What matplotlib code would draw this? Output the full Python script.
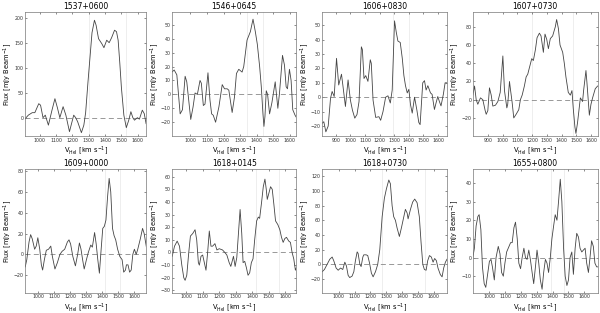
import matplotlib
matplotlib.use("Agg")
import matplotlib.pyplot as plt
import numpy as np

# source names (panel titles)
names = ["1537+0600", "1546+0645", "1606+0830", "1607+0730",
         "1609+0000", "1618+0145", "1618+0730", "1655+0800"]

# velocities [km/s] and fluxes [mJy/beam]
v1 = [911, 930, 954, 970, 994, 1005, 1020, 1034, 1053, 1075, 1093, 1108, 1123, 1143, 1160, 1182,
      1208, 1220, 1232, 1255, 1270, 1281, 1295, 1305, 1320, 1335, 1345, 1360, 1380, 1393, 1410,
      1425, 1440, 1458, 1470, 1480, 1490, 1500, 1515, 1530, 1545, 1558, 1570, 1580, 1598, 1610,
      1628, 1640, 1651]
f1 = [-2, 5, 10, 10, 28, 25, 0, 5, -15, 15, 38, 20, 0, 22, 5, -28,
      5, 0, -8, -30, -15, 10, 70, 110, 170, 195, 185, 158, 148, 140, 155,
      150, 160, 175, 172, 155, 110, 60, 5, -20, -5, 12, 0, -5, 0, -3,
      15, 8, -12]

v2 = [888, 902, 918, 938, 952, 968, 978, 1002, 1016, 1028, 1042, 1058, 1066, 1078, 1088, 1106,
      1118, 1128, 1138, 1152, 1172, 1192, 1206, 1222, 1232, 1252, 1266, 1278, 1292, 1312, 1322,
      1342, 1362, 1378, 1392, 1404, 1418, 1428, 1438, 1444, 1450, 1458, 1466, 1478, 1492, 1512,
      1528, 1538, 1556, 1568, 1578, 1586, 1598, 1608, 1618, 1632, 1642]
f2 = [16, 17.5, 14, -14, -11, 13, 9, -18, -9, 1, 0, 10, 8, -8, -7, 15.5,
      -4, -14, -15, -20, -9, 7, 4, 4, 3, -13, -2, 15, 18, 16, 20,
      39, 45, 54, 45, 36, 20, 5.5, -14, -23, -16, 2.6, 0, -14, -6, 9,
      -10, 1, 28, 21, 5.5, 4, 18, 10, -11, -15, -17]

v3 = [807, 818, 832, 848, 864, 875, 889, 905, 920, 939, 950, 966, 984, 1000, 1014, 1030,
      1045, 1059, 1075, 1082, 1093, 1105, 1120, 1136, 1143, 1155, 1173, 1195, 1207, 1223, 1241,
      1257, 1273, 1286, 1302, 1314, 1325, 1341, 1355, 1366, 1377, 1389, 1400, 1411, 1423, 1439,
      1455, 1468, 1477, 1495, 1507, 1518, 1530, 1548, 1559, 1575, 1586, 1598, 1609, 1620, 1636,
      1648, 1661]
f3 = [-18, -17, -24, -20, -0.7, 4, 0.5, 27, 8.5, 16, 7, -6.4, 12, -2, -9, -14.5,
      -12, -3, 35, 33, 13, 15, 11, 26, 23.5, -2, -14, -13.5, -16, -10, 0,
      1, -4, 5, 53, 45, 39, 38, 27, 15, 8, 3, 5.5, -5, -11, 0,
      -9, -17.5, -19, 10, 11.5, 5, 8, 3, 2, -8.5, -4, 0.5, -3, -6, 2,
      10, 10]

v4 = [798, 810, 821, 832, 850, 866, 882, 889, 900, 911, 923, 934, 952, 968, 984, 1002,
      1013, 1029, 1035, 1047, 1053, 1065, 1076, 1092, 1110, 1121, 1133, 1148, 1160, 1171, 1182,
      1198, 1209, 1223, 1234, 1250, 1261, 1277, 1288, 1300, 1311, 1324, 1340, 1358, 1367, 1379,
      1390, 1408, 1419, 1430, 1446, 1460, 1471, 1480, 1491, 1498, 1509, 1528, 1543, 1550, 1566,
      1573, 1589, 1600, 1611, 1629, 1645]
f4 = [5, 15, 0, -5, 2, 0, -12, -16, -12, 13, 5, -7, -6, -2, 8, 48,
      10, -9, -5, 20, 12, -3, -20, -16, -11, 0, 5, 15, 25, 28, 35,
      45, 43, 55, 68, 73, 70, 52, 72, 66, 56, 67, 70, 80, 88, 78,
      60, 52, 40, 25, 8, 5, 10, -10, -30, -37, -25, 2, -2, 10, 32,
      18, -17, -5, 2, 12, 15]

v5 = [919, 929, 943, 953, 963, 978, 988, 998, 1010, 1020, 1028, 1039, 1051, 1065, 1079, 1089,
      1105, 1120, 1136, 1150, 1166, 1183, 1193, 1203, 1217, 1233, 1247, 1258, 1268, 1278, 1288,
      1302, 1314, 1329, 1339, 1353, 1363, 1373, 1383, 1394, 1404, 1414, 1424, 1434, 1444, 1454,
      1465, 1475, 1485, 1497, 1511, 1525, 1535, 1546, 1552, 1562, 1572, 1582, 1592, 1602, 1613,
      1623, 1639, 1653, 1663, 1677]
f5 = [-12, -5, 12, 19, 15, 5, 8, 16, 5, -10, -15, -5, 4, 5, 8, -2,
      -14, -8, 0, 3, 5, 12, 14, 10, -2, -11, 0, 11, 5, -5, -14,
      -5, 2, 9, 7, 21, 10, -5, -18, 5, 25, 27, 33, 55, 73, 60,
      25, 18, 14, 5, -2, -5, -17, -15, -10, -10, -17, -15, 0, 5, 0,
      5, 15, 25, 20, 7]

v6 = [916, 930, 946, 960, 974, 986, 994, 1004, 1016, 1026, 1040, 1054, 1064, 1074, 1080, 1090,
      1100, 1110, 1120, 1130, 1140, 1150, 1160, 1174, 1186, 1200, 1220, 1234, 1246, 1260, 1270,
      1280, 1286, 1296, 1306, 1316, 1326, 1336, 1344, 1354, 1364, 1374, 1384, 1394, 1404, 1414,
      1426, 1436, 1444, 1456, 1466, 1476, 1484, 1490, 1500, 1510, 1520, 1530, 1540, 1554, 1566,
      1576, 1586, 1596, 1606, 1620, 1630, 1640, 1650, 1660, 1666]
f6 = [-3, 5, 9, 5, -10, -20, -22, -18, 0, 13, 15, 18, 10, -8, -10, -3,
      -2, -8, -14, 0, 17, 5, 5, 7, 2, 3, 2, 0, -2, -8, -11,
      -6, -3, -11, -4, 15, 34, 15, -8, -7, -12, -18, -16, -8, -5, 10,
      25, 28, 27, 40, 52, 58, 50, 42, 47, 52, 50, 38, 25, 22, 18,
      12, 8, 11, 12, 9, 8, 0, -5, -14, -12]

v7 = [895, 909, 926, 943, 958, 968, 983, 996, 1011, 1025, 1038, 1048, 1059, 1069, 1084, 1095,
      1105, 1116, 1122, 1133, 1141, 1152, 1158, 1173, 1183, 1194, 1206, 1217, 1232, 1246, 1259,
      1274, 1288, 1301, 1316, 1326, 1337, 1347, 1358, 1368, 1383, 1396, 1406, 1421, 1432, 1438,
      1453, 1467, 1480, 1495, 1509, 1520, 1531, 1541, 1552, 1562, 1573, 1585, 1596, 1606, 1617,
      1627, 1642, 1653, 1663, 1674, 1684]
f7 = [-10, -7, 0, 7, 10, 5, -5, -8, -5, -7, 3, -2, -15, -18, -16, -10,
      5, 17, 15, 0, -3, 10, 13, 13, 12, 2, -12, -17, -10, 0, 20,
      65, 90, 103, 115, 110, 80, 65, 60, 50, 38, 50, 60, 75, 70, 62,
      75, 85, 89, 84, 65, 30, 0, -7, -8, 5, 12, 10, 3, 8, 5,
      -5, -14, -17, -5, 3, 7]

v8 = [895, 905, 916, 927, 935, 946, 956, 967, 977, 987, 1000, 1010, 1019, 1031, 1042, 1056,
      1067, 1077, 1088, 1098, 1109, 1119, 1134, 1144, 1155, 1165, 1176, 1186, 1197, 1207, 1218,
      1228, 1238, 1249, 1259, 1270, 1280, 1291, 1301, 1312, 1322, 1333, 1343, 1354, 1364, 1374,
      1385, 1395, 1406, 1416, 1427, 1437, 1448, 1458, 1469, 1479, 1490, 1500, 1510, 1521, 1531,
      1542, 1552, 1563, 1573, 1584, 1594, 1605, 1615, 1626, 1636, 1646, 1657, 1667, 1678, 1684]
f8 = [0, 5, 17, 22, 23, 15, -5, -14, -16, -10, -2, -1, -5, -12, 0, 6,
      2, -8, -10, -3, 3, 5, 8, 8, 16, 19, 10, -3, -6, 0, 5,
      0, -1, 4, -1, -8, -14, -5, 4, -3, -12, -17, -8, -1, -3, -8,
      0, 10, 17, 23, 20, 30, 42, 30, 5, -10, -15, -12, 0, 3, -9,
      5, 13, 11, 5, 3, 4, 5, -3, -8, 0, 9, 6, -3, -5, -5]

velocities = [v1, v2, v3, v4, v5, v6, v7, v8]
fluxes = [f1, f2, f3, f4, f5, f6, f7, f8]

# axis limits and ticks
xlims = [(911, 1653), (890, 1640), (807, 1661), (798, 1645),
         (919, 1677), (916, 1666), (895, 1684), (895, 1684)]
ylims = [(-37, 211), (-30, 59), (-27, 59), (-40, 96),
         (-37, 82), (-32, 66), (-39, 130), (-19, 47.5)]
xticks = [range(1000, 1700, 100), range(1000, 1700, 100), range(900, 1700, 100),
          range(900, 1700, 100), range(1000, 1700, 100), range(1000, 1700, 100),
          range(1000, 1700, 100), range(1000, 1700, 100)]
yticks = [range(0, 201, 50), range(-20, 51, 10), range(-20, 51, 10), range(-20, 81, 20),
          range(-20, 81, 20), range(-30, 61, 10), range(-20, 121, 20), range(-10, 41, 10)]
# faint markers of the line width
vmarks = [(1300, 1530), (1340, 1440), (1290, 1400), (1200, 1480),
          (1420, 1510), (1420, 1560), (1270, 1545), (1390, 1470)]

fig = plt.figure(figsize=(6, 3.13), dpi=100)
lefts = [0.042, 0.287, 0.537, 0.788]
widths = [0.202, 0.207, 0.208, 0.208]
bottoms = [0.565, 0.064]
h = 0.396

for i in range(8):
    c = i % 4
    ax = fig.add_axes([lefts[c], bottoms[i // 4], widths[c], h])
    for vm in vmarks[i]:
        ax.axvline(vm, color="#e8e8e8", lw=0.5, zorder=0)
    ax.axhline(0, color="#888888", lw=0.6, ls=(0, (6, 4)))
    ax.plot(velocities[i], fluxes[i], color="#444444", lw=0.6)
    ax.set_xlim(xlims[i])
    ax.set_ylim(ylims[i])
    ax.set_xticks(list(xticks[i]))
    ax.set_yticks(list(yticks[i]))
    ax.tick_params(direction="in", length=1.5, width=0.4, labelsize=3.4,
                   top=True, right=True, pad=1, colors="#333333")
    for s in ax.spines.values():
        s.set_linewidth(0.5)
        s.set_color("#777777")
    ax.set_title(names[i], fontsize=5.5, pad=2.5)
    ax.set_ylabel(r"Flux [mJy Beam$^{-1}$]", fontsize=4.8)
    ax.yaxis.label.set_va("center")
    ax.yaxis.set_label_coords(-0.142, 0.5)
    ax.set_xlabel(r"V$_{\rm Hel}$ [km s$^{-1}$]", fontsize=4.8, labelpad=1)

fig.savefig("out.png", dpi=100)
